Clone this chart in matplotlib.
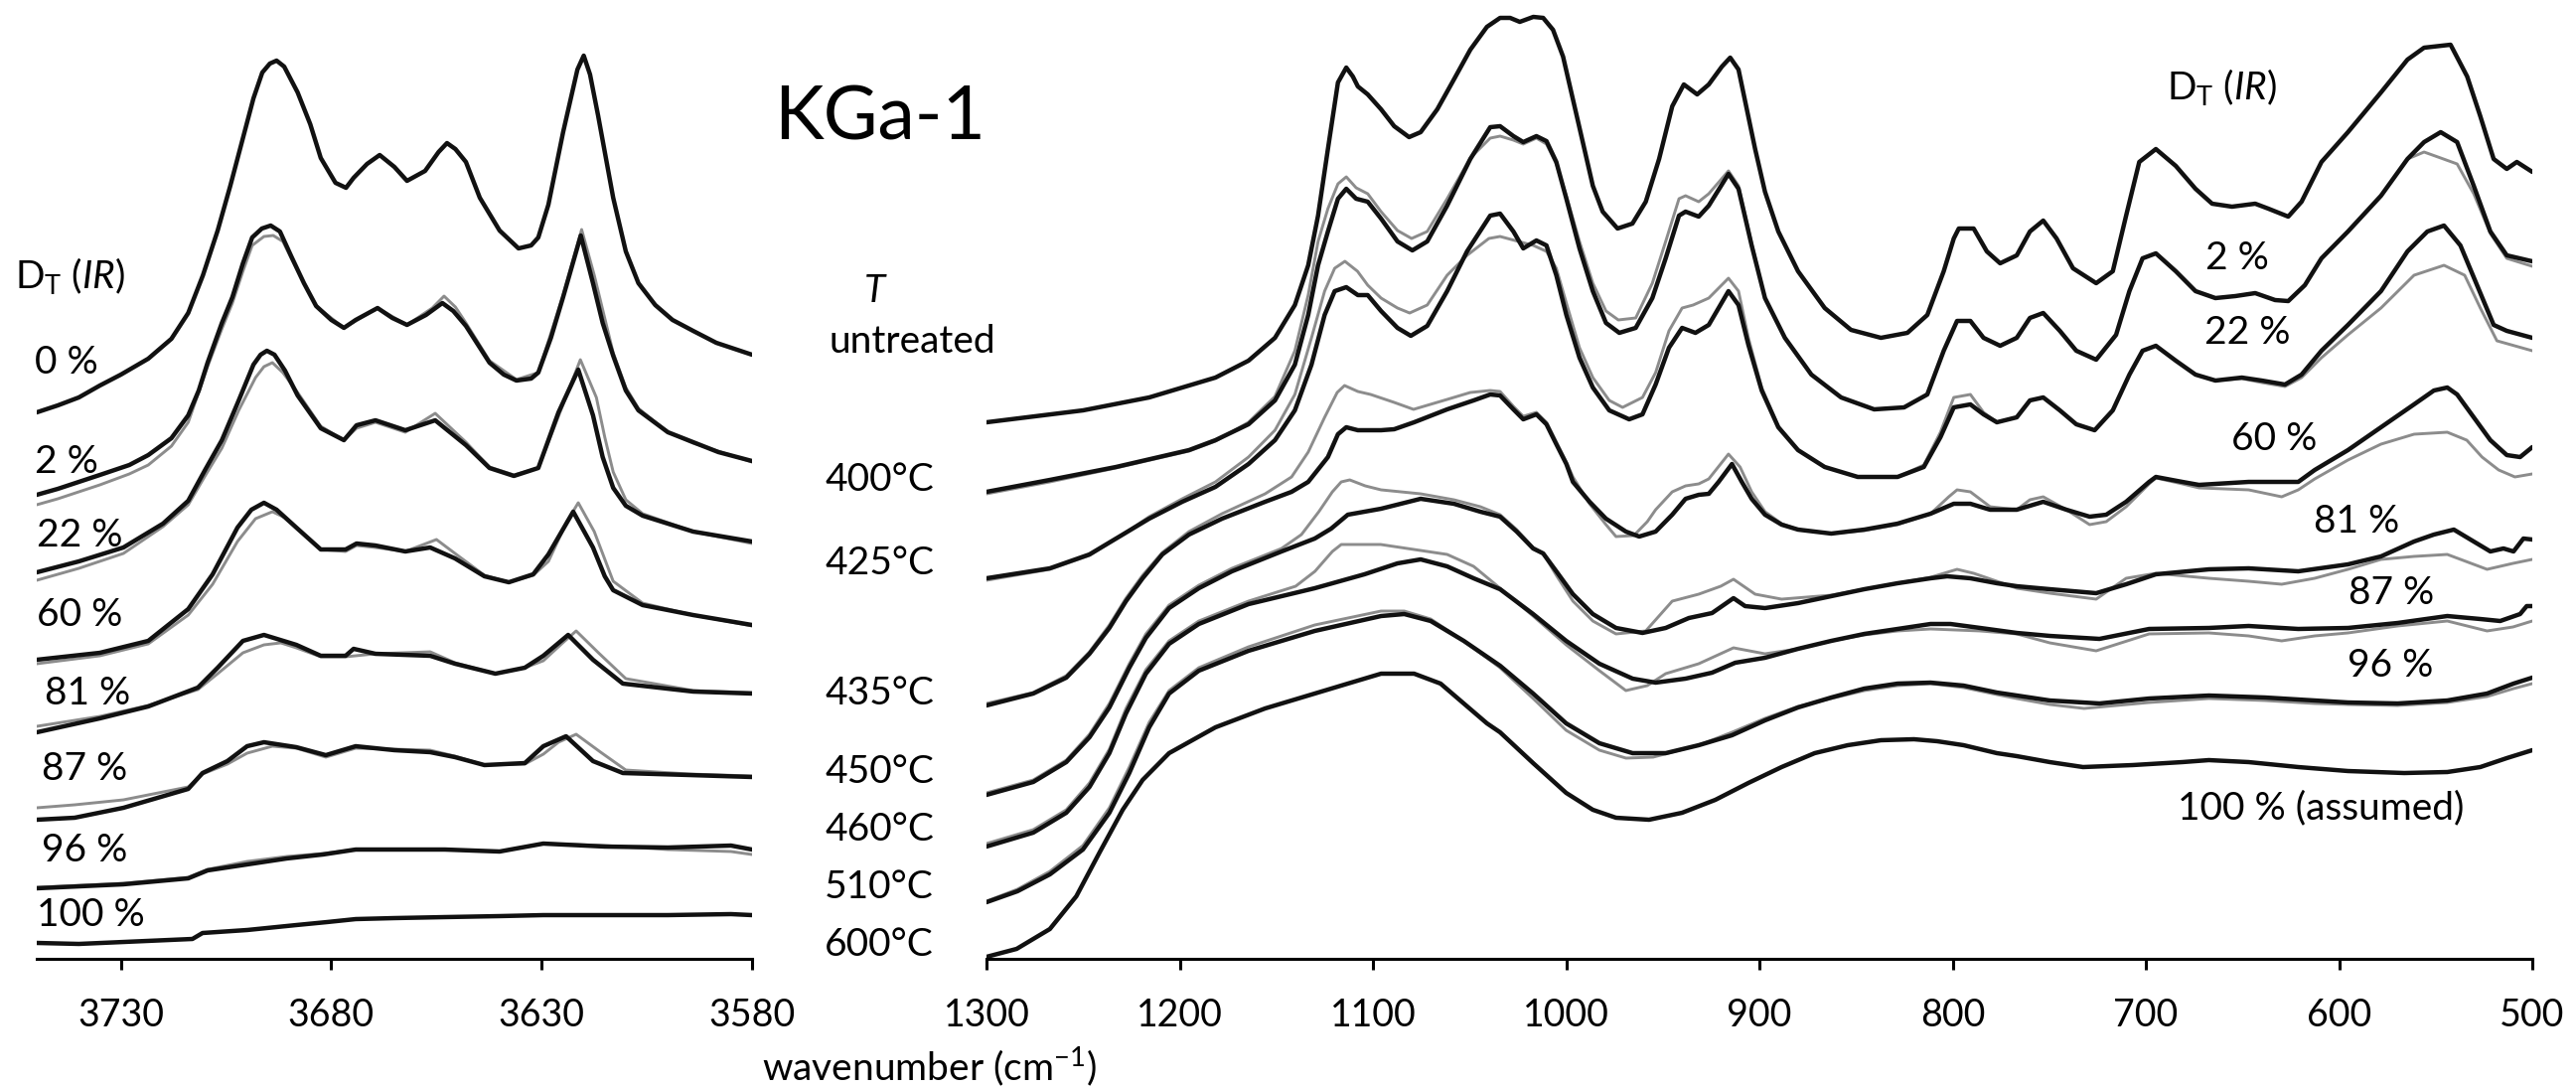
import matplotlib.pyplot as plt
import numpy as np

plt.rcParams['font.family'] = ['Lato', 'DejaVu Sans']
plt.rcParams['mathtext.fontset'] = 'custom'
plt.rcParams['mathtext.rm'] = 'Lato'
plt.rcParams['mathtext.it'] = 'Lato:italic'

W, H = 2593, 1095          # output size in px
BLACK = '#111111'
GRAY = '#8c8c8c'

# ---------- OH-stretching region (wavenumber, offset absorbance) ---------- #
oh_0 = [(3750, 550), (3745, 557), (3740, 565), (3735, 577), (3730, 588), (3723.5, 604), (3718, 624), (3714, 650),
        (3710.5, 688), (3707, 733), (3704, 778), (3701, 826), (3698.5, 866), (3696.4, 892), (3694.6, 901),
        (3693, 904), (3691.2, 898), (3688, 872), (3685, 840), (3682.5, 806), (3679, 781), (3676.5, 776),
        (3674.7, 786), (3671.5, 800), (3668.5, 809), (3665, 797), (3662, 783), (3657.7, 793), (3654.5, 812),
        (3652.5, 821), (3650.5, 815), (3648, 802), (3644.7, 766), (3640, 733), (3635.5, 715), (3632.5, 718),
        (3630.8, 726), (3628.4, 759), (3624.9, 832), (3621.5, 895), (3620, 909), (3618.5, 890), (3616.6, 849),
        (3613, 766), (3610, 712), (3607, 680), (3603, 658), (3598.9, 643), (3594, 632), (3588.5, 620), (3580, 608)]
oh_2 = [(3750, 467), (3745, 473), (3735, 487), (3728, 497), (3723.5, 507), (3718, 524), (3714, 547), (3711.5, 572),
        (3709.4, 600), (3706, 640), (3703.5, 666), (3701, 700), (3698.8, 726), (3696.5, 735), (3694.4, 738),
        (3692.2, 732), (3689.4, 706), (3686.5, 680), (3683.6, 657), (3680, 643), (3677, 635), (3674.2, 643),
        (3669, 655), (3665.5, 645), (3662, 638), (3657.5, 648), (3653.6, 660), (3651, 652), (3648, 637),
        (3642.4, 600), (3639, 588), (3636, 582), (3632.5, 584), (3630.8, 590), (3627.8, 625), (3624.9, 666),
        (3620.7, 728), (3617.8, 680), (3615.5, 640), (3613, 607), (3610, 572), (3607, 552), (3600, 530),
        (3594, 520), (3588, 510), (3580, 501)]
oh_2_ref = [(3750, 457), (3745, 463), (3735, 477), (3728, 488), (3723.5, 497), (3718, 516), (3714, 540),
            (3709.4, 596), (3706, 634), (3703.5, 660), (3701, 692), (3698.8, 718), (3696, 727), (3693.8, 728),
            (3691.5, 722), (3689.4, 704), (3683.6, 657), (3677, 635), (3669, 655), (3662, 638), (3656, 655),
            (3653.2, 667), (3650.5, 656), (3648, 640), (3642.4, 602), (3636, 583), (3630.8, 590), (3624.9, 668),
            (3620.5, 734), (3617.5, 688), (3613, 610), (3610, 575), (3607, 554), (3600, 530), (3594, 519),
            (3580, 500)]
oh_22 = [(3750, 389), (3740, 400), (3729.4, 414), (3720, 438), (3714, 461), (3710, 492), (3706, 522), (3702, 562),
         (3698.5, 598), (3696.8, 608), (3695.3, 612), (3693.5, 608), (3691, 592), (3688, 567), (3682.5, 534),
         (3677, 522), (3674, 537), (3669.5, 542), (3662.4, 532), (3655.3, 542), (3648, 517), (3642.4, 494),
         (3636.6, 486), (3630.8, 494), (3626, 550), (3621.3, 593), (3617.8, 547), (3615.5, 505), (3613, 474),
         (3610, 456), (3606, 446), (3594, 430), (3580, 420)]
oh_22_ref = [(3750, 381), (3740, 393), (3729.4, 408), (3720, 435), (3714, 457), (3710, 486), (3706, 514),
             (3702, 552), (3698, 585), (3696, 596), (3694, 600), (3691.5, 590), (3688, 570), (3682.5, 536),
             (3677, 522), (3674, 534), (3669.5, 540), (3662.4, 530), (3655.3, 549), (3648, 520), (3642.4, 495),
             (3636.6, 487), (3630.8, 494), (3626, 546), (3620.8, 603), (3617, 565), (3615, 525), (3613, 490),
             (3610, 462), (3606, 448), (3594, 430), (3580, 418)]
oh_60 = [(3750, 301), (3735, 308), (3723.5, 320), (3714, 352), (3708.2, 387), (3702.3, 434), (3699, 452),
         (3696, 459), (3693, 452), (3688.3, 434), (3682.5, 412), (3676.6, 412), (3674, 418), (3669.5, 416),
         (3662.4, 410), (3656.5, 414), (3650.6, 403), (3643.6, 385), (3637.8, 379), (3632, 387), (3628.4, 407),
         (3622.5, 450), (3617.8, 414), (3615, 385), (3613, 371), (3606, 356), (3594, 346), (3580, 336)]
oh_60_ref = [(3750, 297), (3735, 305), (3723.5, 317), (3714, 346), (3708.2, 377), (3702.3, 420), (3698, 443),
             (3694, 450), (3691, 444), (3688.3, 434), (3682.5, 412), (3676.6, 410), (3674, 416), (3669.5, 414),
             (3662.4, 410), (3655, 422), (3650.6, 408), (3643.6, 386), (3637.8, 379), (3632, 386), (3628.4, 400),
             (3624, 440), (3621.3, 459), (3617.5, 430), (3613, 380), (3606, 358), (3594, 346), (3580, 335)]
oh_81 = [(3750, 228), (3735, 242), (3723.5, 254), (3711.7, 273), (3707, 293), (3701, 320), (3696, 326),
         (3688.3, 316), (3682.5, 305), (3676.6, 305), (3674.7, 312), (3669.5, 307), (3656.5, 305), (3650.6, 297),
         (3641, 287), (3634, 293), (3629.6, 305), (3623.7, 326), (3617.8, 301), (3610.7, 277), (3594, 269),
         (3580, 267)]
oh_81_ref = [(3750, 234), (3735, 244), (3723.5, 255), (3711.7, 271), (3707, 287), (3701, 308), (3696, 316),
             (3692, 318), (3688.3, 313), (3682.5, 304), (3676.6, 304), (3669.5, 307), (3656.5, 309),
             (3650.6, 298), (3641, 287), (3634, 293), (3629.6, 300), (3625, 318), (3621.8, 330), (3616.5, 308),
             (3610, 282), (3594, 270), (3580, 268)]
oh_87 = [(3750, 140), (3741, 142), (3729.4, 152), (3714, 171), (3710.6, 187), (3704.7, 199), (3700, 214),
         (3696, 218), (3688.3, 213), (3681.3, 205), (3674.2, 214), (3665, 210), (3656.5, 208), (3650.6, 203),
         (3643.6, 195), (3634, 197), (3629.6, 214), (3624.2, 224), (3617.8, 199), (3610.7, 187), (3595, 185),
         (3580, 183)]
oh_87_ref = [(3750, 152), (3741, 155), (3729.4, 160), (3714, 173), (3710.6, 186), (3704.7, 196), (3700, 207),
             (3694, 214), (3688.3, 212), (3681.3, 203), (3674.2, 212), (3665, 211), (3656.5, 210), (3650.6, 204),
             (3643.6, 195), (3634, 196), (3629.6, 206), (3626, 218), (3621.8, 226), (3616, 208), (3610, 190),
             (3595, 186), (3580, 184)]
oh_96 = [(3750, 71), (3729.4, 75), (3714, 81), (3709.4, 89), (3700, 95), (3690.6, 101), (3682, 105),
         (3674.2, 110), (3665, 110), (3653, 110), (3640, 108), (3629.6, 116), (3615, 113), (3600, 112),
         (3585, 114), (3580, 110)]
oh_96_ref = [(3750, 72), (3729.4, 76), (3714, 82), (3709.4, 90), (3700, 98), (3690.6, 103), (3682, 106),
             (3674.2, 110), (3665, 110), (3653, 110), (3640, 108), (3629.6, 116), (3615, 114), (3600, 110),
             (3585, 108), (3580, 105)]
oh_100 = [(3750, 16), (3740, 15), (3713, 20), (3710.6, 26), (3700, 29), (3688.3, 34), (3681, 37), (3674.2, 40),
          (3665, 41), (3653, 42), (3640, 43), (3629.6, 44), (3615, 44), (3600, 44), (3585, 45), (3580, 44)]

oh_black = [oh_0, oh_2, oh_22, oh_60, oh_81, oh_87, oh_96, oh_100]
oh_gray = [oh_2_ref, oh_22_ref, oh_60_ref, oh_81_ref, oh_87_ref, oh_96_ref]
oh_labels = ['0 %', '2 %', '22 %', '60 %', '81 %', '87 %', '96 %', '100 %']

# ---------- lattice region ---------- #
lat_0 = [(1300, 540), (1250, 552), (1215.8, 565), (1181.5, 585), (1164.4, 602), (1150.7, 625), (1140.4, 658),
         (1133.5, 698), (1128.4, 748), (1123.3, 815), (1118.1, 882), (1113.8, 897), (1110.4, 888), (1107.8, 878),
         (1102.7, 870), (1095.8, 855), (1089, 838), (1081.3, 827), (1075.3, 832), (1066.7, 855), (1058.1, 885),
         (1049.6, 915), (1041, 938), (1034.2, 947), (1029, 947), (1024, 943), (1017, 948), (1011.9, 947),
         (1006.8, 935), (1001.6, 908), (996.5, 865), (991.4, 822), (986.2, 778), (981.1, 752), (973.4, 735),
         (965.7, 740), (958.8, 762), (951.9, 805), (945.1, 858), (939.1, 880), (932.2, 870), (926.2, 880),
         (919.4, 898), (915.1, 907), (910.8, 895), (906.5, 855), (902.2, 815), (897.1, 772), (890.2, 732),
         (880, 692), (866.2, 655), (852.6, 633), (837.1, 625), (823.4, 630), (813.1, 648), (804.6, 692),
         (799.4, 725), (796.8, 735), (789.1, 735), (782.3, 712), (775.4, 700), (766.8, 708), (760, 732),
         (753.1, 743), (746.2, 725), (737.7, 695), (725.7, 680), (717.1, 692), (710.2, 748), (703.4, 802),
         (694.8, 815), (684.5, 798), (674.3, 775), (665.7, 760), (655.4, 757), (643.4, 760), (636.6, 755),
         (626.3, 747), (619.4, 762), (609.1, 802), (595.4, 832), (578.3, 872), (564.6, 905), (556, 917),
         (542.3, 920), (533.7, 888), (526.9, 848), (520, 805), (513.2, 795), (508, 802), (500, 792)]
lat_2 = [(1300, 470), (1267.2, 482), (1233, 495), (1195.2, 512), (1181.5, 522), (1164.4, 538), (1150.7, 562),
         (1140.4, 598), (1133.5, 648), (1128.4, 698), (1123.3, 732), (1118.1, 765), (1113.8, 775), (1108.7, 765),
         (1102.7, 762), (1095.8, 745), (1087.3, 722), (1079.6, 713), (1071.9, 722), (1061.6, 758), (1049.6, 805),
         (1039.3, 837), (1034.2, 838), (1027.3, 828), (1022.2, 822), (1015.4, 828), (1010.2, 823), (1005.1, 802),
         (999.9, 765), (993.1, 715), (986.2, 672), (979.4, 640), (972.5, 630), (964, 635), (955.4, 665),
         (948.5, 705), (941.6, 748), (938.2, 752), (931.4, 747), (926.2, 758), (916, 790), (910.8, 775),
         (904, 718), (897.1, 665), (886.8, 625), (873.1, 588), (857.7, 565), (840.6, 553), (825.1, 555),
         (813.1, 568), (804.6, 612), (797.7, 642), (790.8, 642), (784, 625), (775.4, 617), (766.8, 625),
         (760, 645), (753.1, 650), (744.5, 632), (736, 612), (725.7, 603), (715.4, 628), (708.5, 672),
         (701.7, 705), (694.8, 710), (684.5, 692), (674.3, 672), (664, 665), (653.7, 667), (643.4, 670),
         (633.1, 663), (626.3, 662), (617.7, 678), (609.1, 705), (595.4, 732), (578.3, 768), (564.6, 805),
         (556, 822), (547.4, 832), (538.9, 822), (530.3, 778), (521.7, 732), (513.2, 708), (500, 702)]
lat_2_ref = [(1300, 468), (1267.2, 480), (1233, 494), (1195.2, 511), (1181.5, 521), (1164.4, 540), (1150.7, 566),
             (1140.4, 612), (1133.5, 668), (1128.4, 722), (1123.3, 755), (1118.1, 780), (1113.8, 787),
             (1108.7, 776), (1102.7, 770), (1095.8, 752), (1087.3, 733), (1080, 725), (1071.9, 732),
             (1061.6, 765), (1049.6, 806), (1039.3, 826), (1034.2, 828), (1027.3, 824), (1022.2, 820),
             (1015.4, 826), (1010.2, 820), (1005.1, 800), (999.9, 768), (993.1, 722), (986.2, 680), (979.4, 652),
             (973, 643), (964, 645), (955.4, 680), (948.5, 722), (941.6, 765), (938.2, 768), (931.4, 762),
             (926.2, 770), (916, 793), (910.8, 778), (904, 720), (897.1, 665), (886.8, 625), (873.1, 588),
             (857.7, 565), (840.6, 553), (825.1, 555), (813.1, 568), (804.6, 612), (797.7, 642), (790.8, 642),
             (784, 625), (775.4, 617), (766.8, 625), (760, 645), (753.1, 650), (744.5, 632), (736, 612),
             (725.7, 603), (715.4, 628), (708.5, 672), (701.7, 705), (694.8, 710), (684.5, 692), (674.3, 672),
             (664, 665), (653.7, 667), (643.4, 670), (633.1, 663), (626.3, 662), (617.7, 678), (609.1, 705),
             (595.4, 732), (578.3, 768), (564.6, 805), (556, 812), (547.4, 806), (538.9, 800), (530.3, 770),
             (521.7, 730), (513.2, 705), (500, 697)]
lat_22 = [(1300, 383), (1267.2, 393), (1246.7, 407), (1229.5, 427), (1215.8, 443), (1198.7, 460), (1181.5, 475),
          (1164.4, 498), (1150.7, 522), (1140.4, 552), (1131.8, 598), (1125, 648), (1119.8, 672), (1113.8, 676),
          (1107.8, 668), (1102.7, 668), (1095.8, 652), (1087.3, 635), (1080.4, 627), (1071.9, 637), (1061.6, 672),
          (1051.3, 712), (1039.3, 748), (1034.2, 750), (1027.3, 732), (1022.2, 715), (1015.4, 723), (1010.2, 718),
          (1005.1, 688), (999.9, 648), (993.1, 605), (986.2, 575), (977.7, 552), (967.4, 543), (960.5, 548),
          (953.7, 578), (946.8, 615), (940, 635), (933.1, 630), (926.2, 638), (916, 672), (910.8, 658),
          (905.7, 618), (898.8, 572), (890.2, 535), (880, 512), (866.2, 495), (849.1, 485), (828.5, 485),
          (814.9, 495), (806.3, 525), (799.4, 555), (790.8, 558), (784, 548), (777.1, 540), (766.8, 545),
          (760, 562), (753.1, 565), (744.5, 552), (736, 538), (726.5, 532), (717.1, 552), (708.5, 588),
          (701.7, 612), (694.8, 617), (684.5, 602), (674.3, 588), (664, 582), (650.3, 585), (640, 582),
          (628, 578), (619.4, 588), (609.1, 612), (595.4, 638), (578.3, 672), (564.6, 712), (554.3, 732),
          (545.7, 738), (537.2, 718), (528.6, 678), (520, 638), (513.2, 632), (500, 625)]
lat_22_ref = [(1300, 381), (1267.2, 392), (1246.7, 406), (1229.5, 427), (1215.8, 445), (1198.7, 463),
              (1181.5, 480), (1164.4, 505), (1150.7, 532), (1140.4, 568), (1131.8, 625), (1125, 672),
              (1119.8, 695), (1114.5, 702), (1108, 692), (1102.7, 678), (1095.8, 665), (1087.3, 655), (1081, 650),
              (1071.9, 658), (1061.6, 688), (1051.3, 708), (1040, 725), (1034.2, 727), (1017, 718), (1010.2, 712),
              (1005.1, 695), (999.9, 660), (993.1, 615), (986.2, 585), (977.7, 562), (970.8, 555), (960.5, 565),
              (953.7, 590), (946.8, 632), (940, 655), (934.3, 658), (926.2, 665), (916, 685), (910.8, 672),
              (905.7, 625), (898.8, 575), (890.2, 536), (880, 512), (866.2, 495), (849.1, 485), (828.5, 485),
              (814.9, 497), (806.3, 530), (799.4, 565), (790.8, 568), (784, 550), (777.1, 540), (766.8, 545),
              (760, 562), (753.1, 565), (744.5, 552), (736, 538), (726.5, 532), (717.1, 552), (708.5, 588),
              (701.7, 612), (694.8, 617), (684.5, 602), (674.3, 588), (664, 582), (650.3, 584), (640, 580),
              (628, 576), (619.4, 585), (609.1, 605), (595.4, 628), (578.3, 655), (561.2, 688), (545.7, 698),
              (535, 688), (526.9, 655), (518.3, 622), (500, 612)]
lat_60 = [(1300, 255), (1275.8, 267), (1258.7, 283), (1246.7, 307), (1236.4, 333), (1227.8, 360), (1219.2, 383),
          (1209, 407), (1195.2, 427), (1178.1, 443), (1155.8, 460), (1142.1, 470), (1133.5, 480), (1123.3, 505),
          (1118.1, 528), (1113.8, 535), (1107.8, 532), (1095.8, 532), (1089, 533), (1078.7, 540), (1061.6, 553),
          (1047.9, 562), (1039.3, 568), (1034.2, 567), (1027.3, 553), (1022.2, 543), (1015.4, 548),
          (1010.2, 538), (1005.1, 518), (999.9, 498), (996.5, 480), (987.9, 460), (979.4, 443), (969.1, 430),
          (962.2, 425), (953.7, 430), (945.1, 447), (938.2, 463), (931.4, 467), (926.2, 468), (921.1, 480),
          (914.2, 498), (909.1, 480), (904, 463), (897.1, 447), (888.5, 437), (880, 432), (862.8, 428),
          (845.7, 432), (828.5, 438), (811.4, 448), (799.4, 458), (790.8, 458), (780.6, 452), (766.8, 452),
          (753.1, 460), (741.1, 452), (729.1, 445), (720.5, 447), (710.2, 460), (698.3, 480), (694.8, 485),
          (681.1, 480), (672.5, 477), (646.8, 480), (621.1, 480), (612.6, 492), (595.4, 512), (578.3, 535),
          (561.2, 558), (550.9, 572), (544, 575), (538.9, 568), (530.3, 545), (521.7, 522), (513.2, 507),
          (506.3, 505), (500, 515)]
lat_60_ref = [(1300, 257), (1275.8, 268), (1258.7, 285), (1246.7, 309), (1236.4, 336), (1227.8, 363),
              (1219.2, 386), (1209, 409), (1195.2, 430), (1178.1, 448), (1155.8, 468), (1142.1, 485),
              (1133.5, 510), (1125, 545), (1118.5, 570), (1114.7, 577), (1107.8, 571), (1101.2, 568), (1089, 560),
              (1079, 553), (1061.6, 563), (1049.6, 570), (1039.3, 572), (1034.2, 571), (1027.3, 556),
              (1022.2, 546), (1015.4, 550), (1010.2, 540), (1005.1, 520), (999.9, 500), (996.5, 485),
              (987.9, 458), (979.4, 437), (974.2, 425), (965, 426), (958, 440), (953.7, 452), (945.1, 470),
              (938.2, 476), (931.4, 478), (926.2, 483), (916, 508), (910, 495), (904, 470), (897.1, 450),
              (888.5, 438), (880, 432), (862.8, 428), (845.7, 431), (828.5, 437), (811.4, 448), (802, 465),
              (797.7, 472), (790.8, 470), (780.6, 455), (766.8, 452), (760, 462), (753.1, 465), (741.1, 452),
              (729.1, 437), (720.5, 440), (710.2, 455), (698.3, 478), (694.8, 484), (681.1, 478), (672.5, 474),
              (646.8, 472), (629.7, 465), (621.1, 472), (612.6, 483), (595.4, 502), (578.3, 518), (561.2, 528),
              (544, 530), (533.9, 522), (526, 505), (517.4, 492), (509, 485), (500, 488)]
lat_81 = [(1300, 165), (1275.8, 178), (1258.7, 198), (1246.7, 223), (1236.4, 253), (1226.1, 293), (1217.5, 323),
          (1205.5, 353), (1190.1, 373), (1173, 390), (1147.3, 410), (1130.1, 423), (1121.6, 433), (1113, 447),
          (1095.8, 453), (1075.3, 463), (1058.1, 458), (1044.4, 450), (1034.2, 445), (1025.6, 430),
          (1017.1, 413), (1011.9, 408), (1005.1, 390), (996.5, 367), (986.2, 347), (974.2, 333), (960.5, 328),
          (948.5, 333), (936.5, 343), (924.5, 348), (913.4, 363), (907.4, 355), (897.1, 353), (880, 358),
          (862.8, 365), (845.7, 372), (828.5, 378), (811.4, 383), (802.8, 385), (790.8, 383), (777.1, 378),
          (766.8, 375), (749.7, 372), (725.7, 368), (710.2, 377), (694.8, 387), (667.4, 392), (646.8, 393),
          (621.1, 390), (595.4, 397), (578.3, 405), (561.2, 420), (550.9, 427), (540.6, 432), (530.3, 420),
          (521.7, 410), (514.9, 413), (509.7, 410), (504.6, 423), (500, 422)]
lat_81_ref = [(1300, 167), (1275.8, 180), (1258.7, 200), (1246.7, 226), (1236.4, 257), (1226.1, 297),
              (1217.5, 327), (1205.5, 356), (1190.1, 376), (1173, 393), (1147.3, 413), (1137, 427), (1128, 450),
              (1121, 470), (1116.4, 480), (1112, 482), (1104, 476), (1095.8, 472), (1075.3, 468), (1058.1, 462),
              (1044.4, 455), (1034.2, 447), (1025.6, 432), (1017.1, 414), (1011.9, 408), (1005.1, 386),
              (996.5, 360), (986.2, 340), (974.2, 327), (958.8, 330), (945.1, 360), (931.4, 367), (920, 375),
              (913.4, 382), (902.2, 367), (888.5, 362), (862.8, 366), (845.7, 372), (828.5, 378), (811.4, 384),
              (797.7, 392), (789.1, 388), (777.1, 380), (766.8, 373), (749.7, 368), (725.7, 362), (710.2, 383),
              (694.8, 388), (667.4, 383), (646.8, 380), (629.7, 377), (612.6, 383), (595.4, 392), (578.3, 402),
              (561.2, 405), (544, 407), (523.4, 392), (510, 398), (500, 402)]
lat_87 = [(1300, 113), (1275.8, 127), (1258.7, 147), (1246.7, 173), (1236.4, 207), (1227.8, 247), (1217.5, 287),
          (1205.5, 317), (1190.1, 337), (1164.4, 357), (1130.1, 373), (1104.4, 387), (1087.3, 398), (1075.3, 402),
          (1061.6, 395), (1047.9, 383), (1034.2, 372), (1017.1, 347), (1000, 320), (982.8, 297), (965.6, 282),
          (953.7, 278), (938.2, 282), (924.5, 288), (912.5, 298), (897.1, 303), (880, 312), (862.8, 320),
          (845.7, 327), (828.5, 332), (811.4, 337), (801.1, 337), (785.7, 333), (766.8, 328), (749.7, 325),
          (724, 322), (698.3, 332), (667.4, 333), (646.8, 335), (621.1, 332), (595.4, 333), (569.7, 338),
          (544, 345), (526.9, 342), (516.6, 340), (506.3, 347), (502.9, 355), (500, 355)]
lat_87_ref = [(1300, 116), (1275.8, 130), (1258.7, 150), (1246.7, 177), (1236.4, 211), (1227.8, 252),
              (1217.5, 291), (1205.5, 320), (1190.1, 340), (1164.4, 360), (1140, 375), (1130, 390), (1121, 410),
              (1116.4, 417), (1096, 417), (1061.6, 407), (1047.9, 395), (1034.2, 373), (1017.1, 345), (1000, 316),
              (982.8, 290), (969.1, 270), (958, 275), (948.5, 287), (931.4, 297), (913.4, 313), (897.1, 307),
              (880, 312), (862.8, 320), (845.7, 326), (828.5, 330), (811.4, 332), (785.7, 330), (766.8, 327),
              (749.7, 318), (725.7, 310), (698.3, 327), (667.4, 328), (646.8, 325), (629.7, 320), (612.6, 325),
              (595.4, 328), (569.7, 335), (544, 340), (523.4, 330), (510, 334), (500, 340)]
lat_96 = [(1300, 57), (1284, 68), (1267.2, 85), (1250.1, 110), (1236.4, 147), (1226.1, 187), (1215.8, 233),
          (1205.5, 267), (1190.1, 290), (1164.4, 310), (1130.1, 330), (1095.8, 345), (1083.8, 347), (1070.1, 340),
          (1053, 320), (1034.2, 295), (1017.1, 267), (1000, 237), (982.8, 217), (965.6, 207), (948.5, 207),
          (931.4, 215), (914.2, 225), (897.1, 240), (880, 253), (862.8, 263), (845.7, 272), (828.5, 277),
          (811.4, 278), (794.3, 275), (777.1, 268), (766.8, 265), (749.7, 260), (724, 257), (698.3, 262),
          (667.4, 265), (638.3, 263), (612.6, 260), (595.4, 258), (569.7, 257), (544, 260), (523.4, 267),
          (509.7, 277), (500, 283)]
lat_96_ref = [(1300, 58), (1284, 70), (1267.2, 88), (1250.1, 114), (1236.4, 152), (1226.1, 193), (1215.8, 238),
              (1205.5, 270), (1190.1, 293), (1164.4, 314), (1130.1, 336), (1095.8, 350), (1083.8, 350),
              (1070.1, 342), (1053, 320), (1034.2, 293), (1017.1, 262), (1000, 230), (982.8, 210), (969, 202),
              (955, 203), (931.4, 215), (914.2, 228), (897.1, 242), (880, 254), (862.8, 262), (845.7, 270),
              (828.5, 275), (811.4, 277), (794.3, 273), (777.1, 266), (766.8, 262), (749.7, 256), (732, 252),
              (698.3, 258), (667.4, 262), (638.3, 260), (612.6, 257), (595.4, 256), (569.7, 255), (544, 258),
              (523.4, 264), (509.7, 272), (500, 277)]
lat_100 = [(1300, 2), (1284.4, 10), (1267.2, 30), (1253.5, 63), (1241.5, 107), (1229.5, 150), (1219.2, 180),
           (1205.5, 207), (1181.5, 233), (1155.8, 252), (1130.1, 267), (1113, 277), (1095.8, 287), (1078.7, 287),
           (1065, 277), (1053, 257), (1041, 237), (1034.2, 228), (1017.1, 197), (1000, 167), (986.2, 150),
           (974.2, 142), (957.1, 140), (940, 147), (922.8, 160), (905.7, 177), (888.5, 193), (871.4, 207),
           (854.3, 215), (837.1, 220), (820, 221), (808, 219), (794.3, 215), (777.1, 207), (766.8, 204),
           (749.7, 198), (732.5, 193), (706.8, 195), (681.1, 198), (667.4, 200), (646.8, 198), (621.1, 193),
           (595.4, 189), (566.3, 187), (544, 188), (526.9, 193), (513.2, 202), (500, 210)]

lat_black = [lat_0, lat_2, lat_22, lat_60, lat_81, lat_87, lat_96, lat_100]
lat_gray = [lat_2_ref, lat_22_ref, lat_60_ref, lat_81_ref, lat_87_ref, lat_96_ref]
temps = ['untreated', '400°C', '425°C', '435°C', '450°C', '460°C', '510°C', '600°C']
lat_labels = ['2 %', '22 %', '60 %', '81 %', '87 %', '96 %', '100 % (assumed)']

# ---------- figure ---------- #
fig = plt.figure(figsize=(W / 100, H / 100), dpi=100)
bottom = 130 / H
ax1 = fig.add_axes([37 / W, bottom, 720 / W, 1 - bottom])
ax2 = fig.add_axes([993 / W, bottom, 1556 / W, 1 - bottom])


def draw(ax, grays, blacks):
    for s in grays:
        x, y = np.array(s).T
        ax.plot(x, y, color=GRAY, lw=2.1, solid_joinstyle='round', solid_capstyle='round')
    for s in blacks:
        x, y = np.array(s).T
        ax.plot(x, y, color=BLACK, lw=3.2, solid_joinstyle='round', solid_capstyle='round')


draw(ax1, oh_gray, oh_black)
draw(ax2, lat_gray, lat_black)

ax1.set_xlim(3750, 3580)
ax1.set_xticks([3730, 3680, 3630, 3580])
ax2.set_xlim(1300, 500)
ax2.set_xticks(np.arange(1300, 499, -100))
for ax in (ax1, ax2):
    ax.set_ylim(0, 965)
    ax.set_yticks([])
    for s in ('left', 'right', 'top'):
        ax.spines[s].set_visible(False)
    ax.spines['bottom'].set_linewidth(2.2)
    ax.tick_params(axis='x', direction='out', length=8, width=2.2, pad=20, labelsize=27)
    ax.patch.set_alpha(0)


def ftext(x, y, s, **kw):
    # place text by pixel position in the output image
    kw.setdefault('fontsize', 28)
    kw.setdefault('va', 'center')
    fig.text(x / W, 1 - y / H, s, **kw)


dt = r'D$_\mathregular{T}$ ($\mathit{IR}$)'
ftext(15, 277, dt)
oh_pos = [(35, 365), (35, 465), (37, 539), (37, 619), (45, 698), (42, 774), (42, 856), (37, 921)]
for (x, y), s in zip(oh_pos, oh_labels):
    ftext(x, y, s)

ftext(886, 119, 'KGa-1', fontsize=54, ha='center')
ftext(880, 293, 'T', ha='center', style='italic')
temp_pos = [(918, 344), (885, 483), (885, 567), (885, 698), (885, 777), (885, 835), (885, 893), (885, 951)]
for (x, y), s in zip(temp_pos, temps):
    ftext(x, y, s, ha='center')

ftext(2236, 87, dt, ha='center')
lat_pos = [(2252, 260), (2262, 335), (2289, 442), (2372, 525), (2407, 597), (2406, 670), (2336, 813)]
for (x, y), s in zip(lat_pos, lat_labels):
    ftext(x, y, s, ha='center')

ftext(935, 1073, r'wavenumber (cm$^{\mathregular{-1}}$)', ha='center')

fig.savefig('out.png', dpi=100)
